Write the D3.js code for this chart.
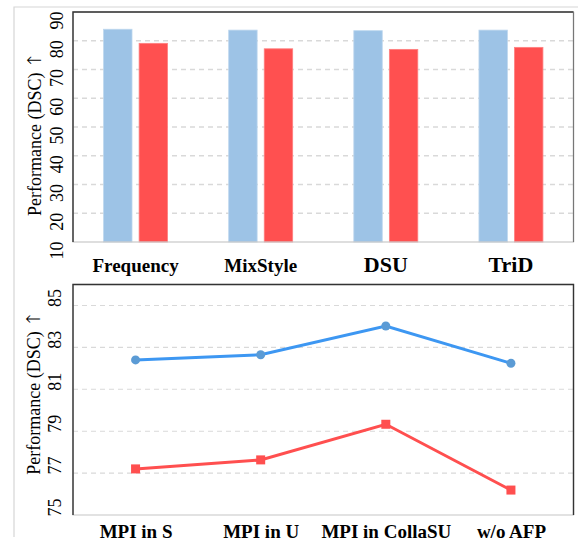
<!DOCTYPE html>
<html>
<head>
<meta charset="utf-8">
<script src="https://cdn.jsdelivr.net/npm/d3@7"></script>
<style>
  body { margin: 0; background: #fff; }
  text { font-family: "Liberation Serif", "Times New Roman", serif; fill: #000; }
</style>
</head>
<body>
<script>
/* Data: top bar chart */
const methods = ["Frequency", "MixStyle", "DSU", "TriD"];
const barSeries = ["source", "target"];
const sourceScores = [84.0, 83.7, 83.5, 83.7];
const targetScores = [79.1, 77.2, 77.0, 77.7];
const barTicks = [10, 20, 30, 40, 50, 60, 70, 80, 90];

/* Data: bottom line chart */
const variants = ["MPI in S", "MPI in U", "MPI in CollaSU", "w/o AFP"];
const blueScores = [82.40, 82.65, 84.02, 82.24];
const redScores = [77.20, 77.63, 79.33, 76.19];
const lineTicks = [75, 77, 79, 81, 83, 85];

/* Constants */
const W = 578, H = 541;
const LEFT = 73, RIGHT = 573.5;
const TOP1 = 12, BOT1 = 242;
const TOP2 = 284.5, BOT2 = 515;
const BLUE_BAR = "#9dc3e6", RED_BAR = "#ff5050";
const BLUE_LINE = "#3d97f2", BLUE_MARK = "#5b9bd5", RED_LINE = "#ff4f4f";
const bigLabels = ["DSU", "TriD"];

const svg = d3.select("body").append("svg")
  .attr("width", W)
  .attr("height", H);

/* Outer light frame */
svg.append("path")
  .attr("d", `M14,537 L14,7 L578,7`)
  .attr("fill", "none")
  .attr("stroke", "#d6d6d6")
  .attr("stroke-width", 1.2);

let data = methods.map((m, i) => ({ method: m, source: sourceScores[i], target: targetScores[i] }));

/* y title with a thin arrow */
let yTitle = (cx, cy) => {
  let t = svg.append("text")
    .attr("transform", `translate(${cx},${cy}) rotate(-90)`)
    .attr("text-anchor", "middle")
    .style("font-size", "18px");
  t.append("tspan").text("Performance (DSC) ");
  t.append("tspan")
    .style("font-family", "DejaVu Sans")
    .style("font-size", "19px")
    .style("font-weight", 200)
    .text("↑");
};

/* ---------- Top panel ---------- */
const x0 = d3.scaleBand().domain(methods).range([LEFT, RIGHT]).padding(0);
const x1 = d3.scaleBand().domain(barSeries).range([0, x0.bandwidth()])
  .paddingInner(0.2).paddingOuter(0.86);
const y1 = d3.scaleLinear().domain([10, 90]).range([BOT1, TOP1]);

// grid
svg.append("g").selectAll("line")
  .data(barTicks.filter(t => t > 10 && t < 90))
  .join("line")
  .attr("x1", LEFT).attr("x2", RIGHT)
  .attr("y1", d => y1(d)).attr("y2", d => y1(d))
  .attr("stroke", "#d9d9d9")
  .attr("stroke-width", 1.3)
  .attr("stroke-dasharray", "5,4");

// bars
const groups = svg.append("g").selectAll("g")
  .data(data)
  .join("g")
  .attr("transform", d => `translate(${x0(d.method)},0)`);

groups.selectAll("rect")
  .data(d => barSeries.map(s => ({ key: s, value: d[s] })))
  .join("rect")
  .attr("x", d => x1(d.key))
  .attr("width", x1.bandwidth())
  .attr("y", d => y1(d.value))
  .attr("height", d => BOT1 - y1(d.value))
  .attr("fill", d => d.key == "source" ? BLUE_BAR : RED_BAR)
  .attr("stroke", d => d.key == "source" ? "#bdd7ee" : "#ff8080")
  .attr("stroke-width", 0.8);

// frame
svg.append("rect")
  .attr("x", LEFT).attr("y", TOP1)
  .attr("width", RIGHT - LEFT).attr("height", BOT1 - TOP1)
  .attr("fill", "none").attr("stroke", "#c8c8c8").attr("stroke-width", 1.2);
svg.append("path")
  .attr("d", `M${LEFT},${BOT1} L${LEFT},${TOP1} L${RIGHT},${TOP1}`)
  .attr("fill", "none").attr("stroke", "#333").attr("stroke-width", 1.4);
svg.append("line")
  .attr("x1", RIGHT).attr("x2", RIGHT).attr("y1", TOP1).attr("y2", BOT1)
  .attr("stroke", "#777").attr("stroke-width", 1.2);

// y axis
const yAxis1 = svg.append("g")
  .attr("transform", `translate(${LEFT},0)`)
  .call(d3.axisLeft(y1).tickValues(barTicks).tickSize(0));
yAxis1.select(".domain").remove();
yAxis1.selectAll("text")
  .attr("transform", "rotate(-90)")
  .attr("x", 1)
  .attr("y", -10)
  .attr("dy", 0)
  .attr("text-anchor", "end")
  .style("font-size", "18px")
  .style("font-family", "Liberation Serif");

// x axis
const xAxis1 = svg.append("g")
  .attr("transform", `translate(0,${BOT1})`)
  .call(d3.axisBottom(x0).tickSize(0));
xAxis1.select(".domain").remove();
xAxis1.selectAll("text")
  .attr("y", 30)
  .attr("dy", 0)
  .style("font-size", d => bigLabels.includes(d) ? "22px" : "19px")
  .style("font-weight", "bold")
  .style("font-family", "Liberation Serif");

yTitle(41, (TOP1 + BOT1) / 2 + 7);

/* ---------- Bottom panel ---------- */
const xp = d3.scalePoint().domain(variants).range([LEFT, RIGHT]).padding(0.5);
const y2 = d3.scaleLinear().domain([75, 86]).range([BOT2, TOP2]);

svg.append("g").selectAll("line")
  .data(lineTicks.filter(t => t > 75))
  .join("line")
  .attr("x1", LEFT).attr("x2", RIGHT)
  .attr("y1", d => y2(d)).attr("y2", d => y2(d))
  .attr("stroke", "#d9d9d9")
  .attr("stroke-width", 1.1)
  .attr("stroke-dasharray", "5,4");

svg.append("rect")
  .attr("x", LEFT).attr("y", TOP2)
  .attr("width", RIGHT - LEFT).attr("height", BOT2 - TOP2)
  .attr("fill", "none").attr("stroke", "#cfcfcf").attr("stroke-width", 1.2);
svg.append("path")
  .attr("d", `M${LEFT},${BOT2} L${LEFT},${TOP2} L${RIGHT},${TOP2} L${RIGHT},${BOT2}`)
  .attr("fill", "none").attr("stroke", "#333").attr("stroke-width", 1.4);

const line = d3.line()
  .x((d, i) => xp(variants[i]))
  .y(d => y2(d));

svg.append("path")
  .datum(blueScores)
  .attr("d", line)
  .attr("fill", "none")
  .attr("stroke", BLUE_LINE)
  .attr("stroke-width", 3);

svg.append("path")
  .datum(redScores)
  .attr("d", line)
  .attr("fill", "none")
  .attr("stroke", RED_LINE)
  .attr("stroke-width", 3);

svg.append("g").selectAll("circle")
  .data(blueScores)
  .join("circle")
  .attr("cx", (d, i) => xp(variants[i]))
  .attr("cy", d => y2(d))
  .attr("r", 4.5)
  .attr("fill", BLUE_MARK);

svg.append("g").selectAll("rect")
  .data(redScores)
  .join("rect")
  .attr("x", (d, i) => xp(variants[i]) - 4.5)
  .attr("y", d => y2(d) - 4.5)
  .attr("width", 9)
  .attr("height", 9)
  .attr("fill", RED_LINE);

const yAxis2 = svg.append("g")
  .attr("transform", `translate(${LEFT},0)`)
  .call(d3.axisLeft(y2).tickValues(lineTicks).tickSize(0));
yAxis2.select(".domain").remove();
yAxis2.selectAll("text")
  .attr("transform", "rotate(-90)")
  .attr("x", -1)
  .attr("y", -12)
  .attr("dy", 0)
  .attr("text-anchor", "start")
  .style("font-size", "18px")
  .style("font-family", "Liberation Serif");

const xAxis2 = svg.append("g")
  .attr("transform", `translate(0,${BOT2})`)
  .call(d3.axisBottom(xp).tickSize(0));
xAxis2.select(".domain").remove();
xAxis2.selectAll("text")
  .attr("y", 23)
  .attr("dy", 0)
  .style("font-size", "19px")
  .style("font-weight", "bold")
  .style("font-family", "Liberation Serif");

yTitle(40, (TOP2 + BOT2) / 2 - 7);
</script>
</body>
</html>
